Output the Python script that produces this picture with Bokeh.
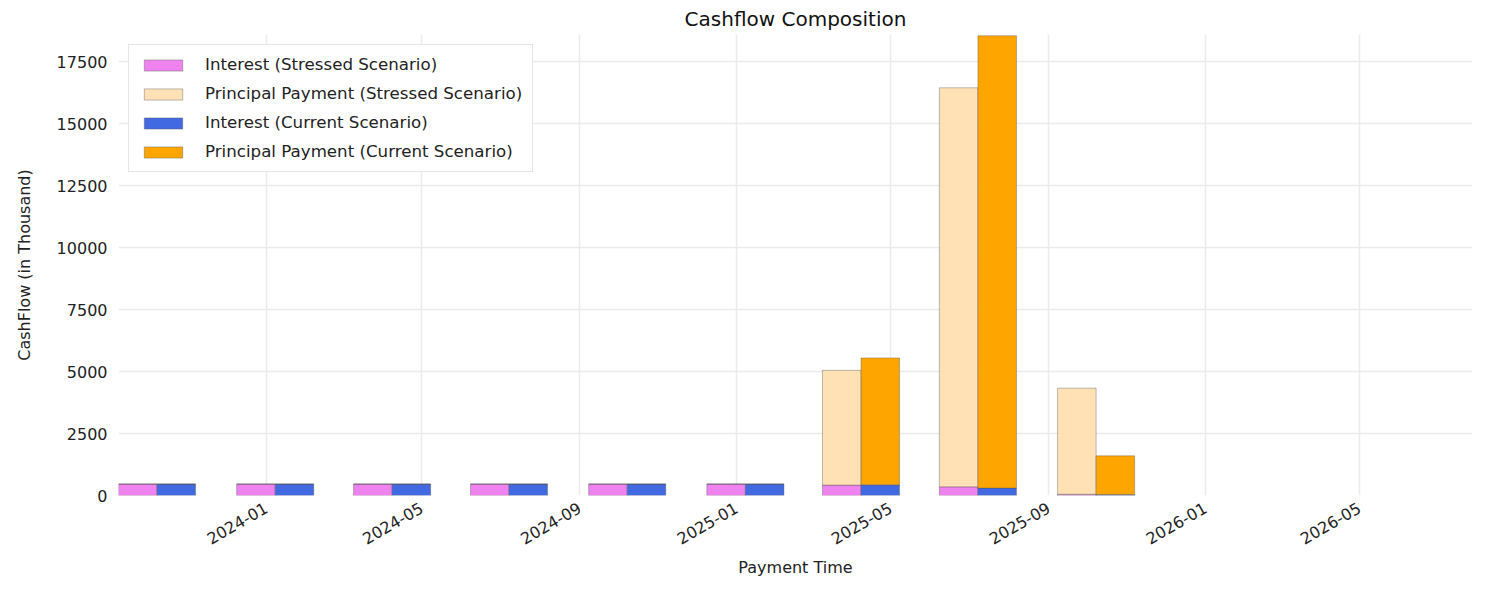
import numpy as np
import pandas as pd
from bokeh.plotting import figure
from bokeh.models import Legend, LegendItem, DatetimeTickFormatter, Range1d, FixedTicker
from bokeh.embed import file_html
from bokeh.resources import INLINE

pay_dates = pd.to_datetime(["2023-10-08", "2024-01-08", "2024-04-08", "2024-07-08", "2024-10-08",
                            "2025-01-08", "2025-04-08", "2025-07-08", "2025-10-08"])
int_stressed = [460, 460, 460, 460, 460, 460, 420, 350, 50]
prin_stressed = [0, 0, 0, 0, 0, 0, 4630, 16100, 4280]
int_current = [460, 460, 460, 460, 460, 460, 430, 300, 40]
prin_current = [0, 0, 0, 0, 0, 0, 5120, 18250, 1560]
y_ticks = [0, 2500, 5000, 7500, 10000, 12500, 15000, 17500]

bar_w = pd.Timedelta(days=30)
font = "DejaVu Sans"

p = figure(width=1476, height=580, x_axis_type="datetime", output_backend="svg",
           toolbar_location=None, title="Cashflow Composition",
           x_range=Range1d(pd.Timestamp("2023-09-08"), pd.Timestamp("2026-07-28")),
           y_range=Range1d(0, 18600), min_border_left=118, min_border_right=4, min_border_top=17)
p.title.align = "center"
p.title.text_font = font
p.title.text_font_size = "15pt"
p.title.text_font_style = "normal"
p.title.text_color = "#111111"
p.title.standoff = 8
p.outline_line_color = None

ec = "#555555"
left_s = pay_dates - bar_w
right_c = pay_dates + bar_w
r1 = p.quad(left=left_s, right=pay_dates, bottom=0, top=int_stressed, fill_color="violet", line_color=ec, line_width=0.4)
r2 = p.quad(left=left_s, right=pay_dates, bottom=int_stressed, top=np.add(int_stressed, prin_stressed),
            fill_color="navajowhite", fill_alpha=0.9, line_color=ec, line_width=0.4)
r3 = p.quad(left=pay_dates, right=right_c, bottom=0, top=int_current, fill_color="royalblue", line_color=ec, line_width=0.4)
r4 = p.quad(left=pay_dates, right=right_c, bottom=int_current, top=np.add(int_current, prin_current),
            fill_color="orange", line_color=ec, line_width=0.4)

legend = Legend(items=[
    LegendItem(label="Interest (Stressed Scenario)", renderers=[r1]),
    LegendItem(label="Principal Payment (Stressed Scenario)", renderers=[r2]),
    LegendItem(label="Interest (Current Scenario)", renderers=[r3]),
    LegendItem(label="Principal Payment (Current Scenario)", renderers=[r4]),
], location="top_left")
legend.label_text_font = font
legend.label_text_font_size = "12.5pt"
legend.label_text_color = "#222222"
legend.border_line_color = "#cccccc"
legend.glyph_width = 48
legend.glyph_height = 14
legend.spacing = 10
legend.label_standoff = 18
legend.margin = 10
legend.padding = 10
p.add_layout(legend)

p.xaxis.ticker.desired_num_ticks = 8
p.xaxis.formatter = DatetimeTickFormatter(months="%Y-%m", years="%Y-%m", days="%Y-%m")
p.xaxis.major_label_orientation = 0.52
p.xaxis.axis_label = "Payment Time"
p.yaxis.axis_label = "CashFlow (in Thousand)"
p.yaxis.axis_label_standoff = 20
p.yaxis.ticker = FixedTicker(ticks=y_ticks)
for ax in (p.xaxis, p.yaxis):
    ax.axis_line_color = None
    ax.major_tick_line_color = None
    ax.minor_tick_line_color = None
    ax.major_label_text_font = font
    ax.major_label_text_font_size = "12pt"
    ax.major_label_text_color = "#222222"
    ax.axis_label_text_font = font
    ax.axis_label_text_font_size = "12pt"
    ax.axis_label_text_font_style = "normal"
    ax.axis_label_text_color = "#222222"
p.grid.grid_line_color = "#ebebeb"
p.grid.grid_line_width = 1.5

open("out.html", "w").write(file_html(p, INLINE))
